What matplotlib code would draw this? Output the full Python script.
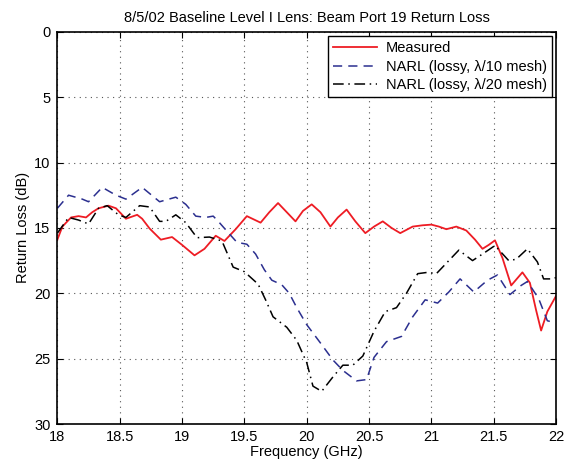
# Beam Port 19 return loss, measured vs NARL
import matplotlib
matplotlib.use('Agg')
import matplotlib.pyplot as plt

# Measured
f_meas = [18.0, 18.04, 18.11, 18.17, 18.23, 18.28, 18.33, 18.41, 18.47, 18.55, 18.64, 18.68,
          18.74, 18.83, 18.92, 19.0, 19.1, 19.18, 19.27, 19.34, 19.43, 19.52, 19.63, 19.70,
          19.77, 19.84, 19.91, 19.97, 20.04, 20.11, 20.19, 20.25, 20.32, 20.39, 20.47, 20.54,
          20.61, 20.68, 20.75, 20.85, 20.93, 21.0, 21.06, 21.12, 21.2, 21.28, 21.35, 21.41,
          21.46, 21.51, 21.57, 21.64, 21.73, 21.79, 21.84, 21.88, 21.93, 22.0]
rl_meas = [15.9, 14.9, 14.2, 14.1, 14.2, 13.8, 13.5, 13.3, 13.5, 14.3, 14.0, 14.3,
           15.05, 15.9, 15.7, 16.3, 17.1, 16.6, 15.6, 16.0, 15.1, 14.1, 14.6, 13.8,
           13.1, 13.8, 14.5, 13.7, 13.2, 13.8, 14.9, 14.2, 13.6, 14.5, 15.4, 14.9,
           14.5, 15.0, 15.4, 14.9, 14.8, 14.75, 14.9, 15.1, 14.9, 15.2, 15.9, 16.6,
           16.3, 15.95, 17.3, 19.4, 18.4, 19.2, 21.3, 22.85, 21.4, 20.2]

# NARL lossy, lambda/10 mesh
f_10 = [18.0, 18.09, 18.2, 18.25, 18.36, 18.47, 18.55, 18.68, 18.82, 18.95, 19.03, 19.11,
        19.19, 19.25, 19.30, 19.36, 19.44, 19.52, 19.59, 19.66, 19.72, 19.80, 19.86, 19.92,
        20.0, 20.11, 20.21, 20.29, 20.40, 20.48, 20.54, 20.64, 20.76, 20.85, 20.95, 21.05,
        21.14, 21.23, 21.34, 21.45, 21.53, 21.63, 21.72, 21.77, 21.86, 21.93, 21.97]
rl_10 = [13.5, 12.5, 12.8, 13.0, 11.9, 12.5, 12.8, 11.9, 13.0, 12.65, 13.2, 14.1,
         14.2, 14.1, 14.6, 15.25, 16.1, 16.25, 17.0, 18.2, 19.0, 19.35, 20.0, 21.1,
         22.4, 23.8, 25.1, 25.9, 26.7, 26.6, 24.9, 23.7, 23.3, 21.8, 20.5, 20.75,
         19.9, 18.9, 19.9, 19.0, 18.6, 20.1, 19.4, 19.1, 20.4, 22.1, 22.2]

# NARL lossy, lambda/20 mesh
f_20 = [18.0, 18.09, 18.17, 18.25, 18.33, 18.40, 18.49, 18.55, 18.66, 18.74, 18.82, 18.87,
        18.95, 19.03, 19.12, 19.22, 19.32, 19.41, 19.50, 19.61, 19.67, 19.73, 19.84, 19.92,
        20.0, 20.05, 20.12, 20.21, 20.29, 20.37, 20.45, 20.54, 20.63, 20.72, 20.80, 20.89,
        20.97, 21.04, 21.12, 21.22, 21.33, 21.41, 21.51, 21.62, 21.68, 21.77, 21.85, 21.9,
        21.97, 22.0]
rl_20 = [15.4, 14.2, 14.4, 14.7, 13.5, 13.3, 14.0, 14.2, 13.3, 13.4, 14.5, 14.5,
         14.0, 14.6, 15.75, 15.7, 16.0, 18.0, 18.35, 19.3, 20.5, 21.8, 22.6, 23.6,
         25.3, 27.1, 27.5, 26.4, 25.5, 25.5, 24.8, 22.9, 21.4, 21.1, 20.0, 18.5,
         18.4, 18.5, 17.7, 16.7, 17.5, 17.0, 16.35, 17.5, 17.4, 16.6, 17.6, 18.9,
         18.9, 18.8]

xticks = [18, 18.5, 19, 19.5, 20, 20.5, 21, 21.5, 22]
xticklabels = ['18', '18.5', '19', '19.5', '20', '20.5', '21', '21.5', '22']
yticks = [0, 5, 10, 15, 20, 25, 30]

plt.rcParams['font.family'] = ['Liberation Sans', 'DejaVu Sans']
plt.rcParams['font.size'] = 10.5

fig = plt.figure(figsize=(5.68, 4.67), dpi=100)
ax = fig.add_axes([0.101, 0.092, 0.878, 0.84])

ax.plot(f_meas, rl_meas, color='#ee1c24', lw=1.3, label='Measured')
ax.plot(f_10, rl_10, color='#2b2f8f', lw=1.1, ls=(0, (6, 4)), label='NARL (lossy, λ/10 mesh)')
ax.plot(f_20, rl_20, color='black', lw=1.1, ls=(0, (7, 3, 1, 3)), label='NARL (lossy, λ/20 mesh)')

ax.set_xlim(18, 22)
ax.set_ylim(30, 0)
ax.set_xticks(xticks)
ax.set_xticklabels(xticklabels)
ax.set_yticks(yticks)
ax.grid(True, ls=(0, (1, 4)), color='#555555', lw=0.8)
ax.tick_params(direction='in', top=True, right=True, length=4)
ax.tick_params(axis='x', pad=4)
ax.tick_params(axis='y', pad=5)
for s in ax.spines.values():
    s.set_linewidth(1.2)

ax.set_xlabel('Frequency (GHz)', labelpad=1)
ax.set_ylabel('Return Loss (dB)', labelpad=3)
ax.set_title('8/5/02 Baseline Level I Lens: Beam Port 19 Return Loss', fontsize=10.5, pad=7)

leg = ax.legend(loc='upper right', fancybox=False, framealpha=1, edgecolor='black',
                borderaxespad=0.3, handlelength=3.0, labelspacing=0.3, borderpad=0.35,
                handletextpad=0.6)
leg.get_frame().set_linewidth(1.0)

fig.savefig('out.png', dpi=100)
